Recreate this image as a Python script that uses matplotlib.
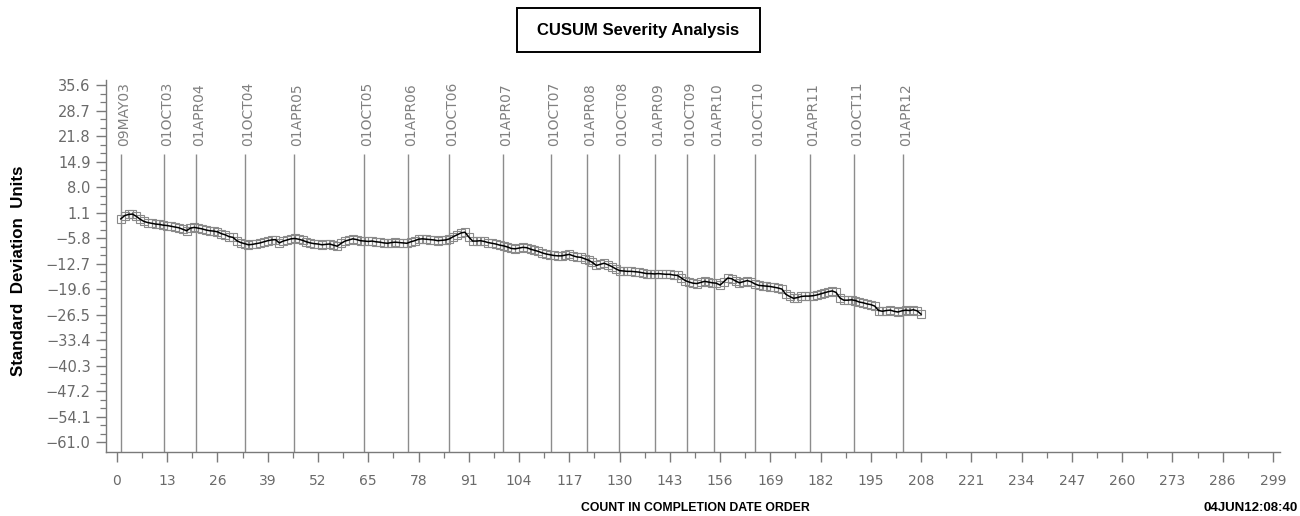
#!/usr/bin/env python3
"""CUSUM severity chart: cumulative standard deviation units by completion count."""

import matplotlib

matplotlib.use("Agg")
import matplotlib.pyplot as plt
import numpy as np
from matplotlib.patches import Rectangle


CUSUM_VALUES = [
    -0.6, 0.3, 0.6, 0.7, 0.1, -0.7, -1.3, -1.6, -1.8, -2.0,
    -2.1, -2.3, -2.4, -2.6, -2.8, -3.0, -3.4, -3.8, -3.1, -2.9,
    -3.1, -3.3, -3.6, -3.8, -3.9, -4.1, -4.6, -4.9, -5.4, -5.6,
    -6.5, -7.0, -7.3, -7.6, -7.5, -7.3, -7.1, -6.8, -6.5, -6.3,
    -6.2, -7.1, -6.6, -6.3, -6.0, -5.9, -6.1, -6.4, -6.8, -7.1,
    -7.3, -7.4, -7.6, -7.5, -7.4, -7.7, -8.0, -7.2, -6.6, -6.3,
    -6.0, -6.2, -6.5, -6.6, -6.7, -6.6, -6.8, -6.9, -7.1, -7.2,
    -7.0, -6.9, -7.0, -7.1, -7.2, -6.8, -6.5, -6.1, -6.0, -6.1,
    -6.2, -6.3, -6.5, -6.4, -6.3, -6.0, -5.4, -4.9, -4.4, -4.2,
    -5.5, -6.6, -6.6, -6.5, -6.7, -7.0, -7.2, -7.4, -7.7, -7.9,
    -8.2, -8.6, -8.7, -8.5, -8.3, -8.4, -8.8, -9.1, -9.4, -9.8,
    -10.1, -10.3, -10.5, -10.6, -10.6, -10.4, -10.2, -10.6, -10.9, -11.0,
    -11.4, -11.8, -12.4, -13.2, -12.9, -12.6, -13.0, -13.5, -14.1, -14.6,
    -14.7, -14.8, -14.8, -14.9, -15.0, -15.2, -15.4, -15.4, -15.5, -15.4,
    -15.5, -15.6, -15.6, -15.8, -15.9, -16.6, -17.3, -17.7, -18.0, -18.1,
    -17.8, -17.5, -17.7, -17.9, -18.0, -18.5, -17.6, -16.6, -16.8, -17.4,
    -17.9, -17.6, -17.3, -17.6, -18.2, -18.6, -18.7, -18.8, -18.9, -19.1,
    -19.3, -19.6, -21.0, -21.6, -22.1, -21.9, -21.6, -21.5, -21.5, -21.4,
    -21.2, -20.9, -20.6, -20.3, -20.1, -20.5, -22.0, -22.6, -22.6, -22.5,
    -22.7, -23.1, -23.3, -23.6, -23.8, -24.2, -25.4, -25.6, -25.4, -25.3,
    -25.6, -25.8, -25.5, -25.3, -25.4, -25.2, -25.5, -26.4,
]

DATE_LABELS = [
    "09MAY03", "01OCT03", "01APR04", "01OCT04", "01APR05", "01OCT05",
    "01APR06", "01OCT06", "01APR07", "01OCT07", "01APR08", "01OCT08",
    "01APR09", "01OCT09", "01APR10", "01OCT10", "01APR11", "01OCT11",
    "01APR12",
]
DATE_COUNTS = [
    1.0, 12.2, 20.4, 33.1, 45.8, 64.0, 75.4, 86.0, 99.9, 112.3,
    121.7, 129.9, 139.3, 147.4, 154.5, 165.1, 179.3, 190.6, 203.4,
]

Y_TICKS = [35.6, 28.7, 21.8, 14.9, 8.0, 1.1, -5.8, -12.7, -19.6, -26.5,
           -33.4, -40.3, -47.2, -54.1, -61.0]
X_TICKS = list(range(0, 300, 13))

TICK_GREY = "#6a6a6a"
AXIS_GREY = "#7a7a7a"
BOLD_FONT = ["Liberation Sans", "DejaVu Sans"]


def main() -> None:
    fig = plt.figure(figsize=(13.0, 5.16), dpi=100)
    ax = fig.add_axes([0.0815, 0.124, 0.903, 0.721])
    ax.set_xlim(-2.85, 300.8)
    ax.set_ylim(-63.7, 37.0)

    counts = np.arange(1, len(CUSUM_VALUES) + 1)

    # date reference lines and their rotated labels
    ax.vlines(DATE_COUNTS, -63.7, 17.0, color="#8c8c8c", linewidth=1.0, zorder=1)
    for xpos, label in zip(DATE_COUNTS, DATE_LABELS):
        ax.text(xpos + 0.8, 19.2, label, rotation=90, ha="center", va="bottom",
                fontsize=10, color="#808080", clip_on=False)

    ax.plot(counts, CUSUM_VALUES, color="black", linewidth=1.1, zorder=3)
    ax.plot(counts, CUSUM_VALUES, linestyle="none", marker="s", markersize=6.4,
            markerfacecolor="none", markeredgecolor="#8a8a8a",
            markeredgewidth=0.8, zorder=2)

    for side in ("top", "right"):
        ax.spines[side].set_visible(False)
    for side in ("left", "bottom"):
        ax.spines[side].set_color(AXIS_GREY)
        ax.spines[side].set_linewidth(1.0)

    ax.set_yticks(Y_TICKS)
    ax.set_yticklabels([f"{v:.1f}".replace("-", "\u2212") for v in Y_TICKS])
    ax.set_yticks(np.arange(-61.0, 36.0, 2.3), minor=True)
    ax.set_xticks(X_TICKS)
    ax.set_xticklabels([str(v) for v in X_TICKS])
    ax.set_xticks(np.arange(6.5, 300, 13), minor=True)

    ax.tick_params(axis="both", which="major", direction="out", length=7,
                   width=1.0, color=AXIS_GREY, labelcolor=TICK_GREY, labelsize=10)
    ax.tick_params(axis="y", labelsize=10.5, pad=4)
    ax.tick_params(axis="x", pad=9)
    ax.tick_params(axis="both", which="minor", direction="out", length=4,
                   width=0.9, color=AXIS_GREY)

    # boxed title
    fig.patches.append(Rectangle((0.3977, 0.899), 0.187, 0.0853,
                                 transform=fig.transFigure, fill=False,
                                 edgecolor="black", linewidth=1.4))
    fig.text(0.4912, 0.9415, "CUSUM Severity Analysis", ha="center", va="center",
             fontsize=12, fontweight="bold", family=BOLD_FONT)

    fig.text(0.014, 0.475, "Standard  Deviation  Units", rotation=90,
             ha="center", va="center", fontsize=12.2, fontweight="bold",
             family=BOLD_FONT)
    fig.text(0.535, 0.0155, "COUNT IN COMPLETION DATE ORDER", ha="center",
             va="center", fontsize=8.8, fontweight="bold", family=BOLD_FONT)
    fig.text(0.998, 0.0155, "04JUN12:08:40", ha="right", va="center",
             fontsize=9.5, fontweight="bold", family=BOLD_FONT)

    fig.savefig("out.png", dpi=100)
    plt.close(fig)


if __name__ == "__main__":
    main()
